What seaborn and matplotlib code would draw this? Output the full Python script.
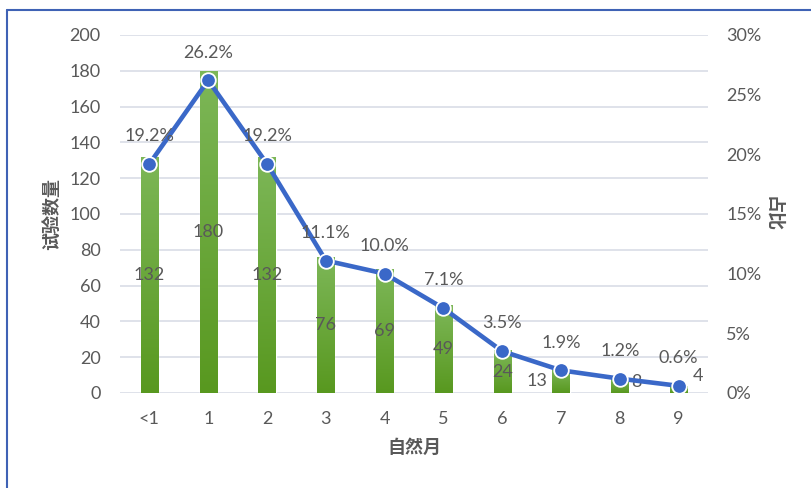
import numpy as np
import pandas as pd
import matplotlib
matplotlib.use("Agg")
import matplotlib.pyplot as plt
import seaborn as sns
from matplotlib.lines import Line2D
from matplotlib.ticker import PercentFormatter

# data
months = ['<1', '1', '2', '3', '4', '5', '6', '7', '8', '9']
counts = [132, 180, 132, 76, 69, 49, 24, 13, 8, 4]
shares = [19.2, 26.2, 19.2, 11.1, 10.0, 7.1, 3.5, 1.9, 1.2, 0.6]

df = pd.DataFrame({'month': months, 'count': counts, 'share': shares})
df['pos'] = np.arange(len(df))

sns.set_theme(style="white")
plt.rcParams['font.family'] = ['Lato', 'Noto Sans CJK SC', 'DejaVu Sans']

txt = '#595959'
grid_c = '#d9dde6'
line_c = '#3a68c8'
fs = 13

fig = plt.figure(figsize=(8.12, 4.88), dpi=100)
ax = fig.add_axes([0.1478, 0.1947, 0.7241, 0.7336])

sns.barplot(data=df, x='month', y='count', color='#68a53a', width=0.29,
            saturation=1, ax=ax, zorder=2)

# vertical green gradient on each bar
grad = np.linspace(0, 1, 256).reshape(-1, 1)
cmap = matplotlib.colors.LinearSegmentedColormap.from_list('g', ['#58981f', '#7db758'])
for p in ax.patches:
    x0, y0 = p.get_x(), p.get_y()
    w, h = p.get_width(), p.get_height()
    im = ax.imshow(grad, cmap=cmap, aspect='auto', origin='lower',
                   extent=[x0, x0 + w, y0, y0 + h], zorder=2.1)
    im.set_clip_path(p)

ax.set_xlim(-0.5, 9.5)
ax.set_ylim(0, 200)
ax.set_yticks(range(0, 201, 20))
ax.grid(axis='y', color=grid_c, lw=1.2, zorder=0)
ax.set_axisbelow(True)
for s in ax.spines.values():
    s.set_visible(False)
ax.tick_params(axis='both', length=0, labelsize=fs, colors=txt)
ax.tick_params(axis='y', pad=14)
ax.tick_params(axis='x', pad=13)
ax.set_xlabel('自然月', fontsize=13, color=txt, fontweight='bold', labelpad=8,
              family=['Noto Sans CJK SC'])
ax.set_ylabel('试验数量', fontsize=13, color=txt, fontweight='bold', labelpad=6,
              family=['Noto Sans CJK SC'])

# bar value labels (centered, a few nudged sideways like the original)
nudge = {7: (-17, 0), 8: (12, 3), 9: (14, 10)}
for i, v in enumerate(counts):
    dx, dy = nudge.get(i, (0, 0))
    ax.annotate(str(v), (i, v / 2), xytext=(dx, dy), textcoords='offset points',
                ha='center', va='center', fontsize=fs, color=txt, zorder=5)

ax2 = ax.twinx()
sns.lineplot(data=df, x='pos', y='share', ax=ax2, color=line_c, lw=3.3,
             marker='o', markersize=10.5, markeredgecolor='white',
             markeredgewidth=1.3, zorder=4)
ax2.set_ylim(0, 30)
ax2.set_yticks(range(0, 31, 5))
ax2.yaxis.set_major_formatter(PercentFormatter(decimals=0))
ax2.set_xlim(-0.5, 9.5)
for s in ax2.spines.values():
    s.set_visible(False)
ax2.tick_params(axis='y', length=0, labelsize=fs, colors=txt, pad=13)
ax2.set_ylabel('占比', fontsize=13, color=txt, fontweight='bold', rotation=270,
               labelpad=16, family=['Noto Sans CJK SC'])
ax2.set_xlabel('')
ax2.grid(False)

for i, v in enumerate(shares):
    ax2.annotate(f'{v:.1f}%', (i, v), xytext=(0, 20), textcoords='offset points',
                 ha='center', va='center', fontsize=fs, color=txt, zorder=6)

# blue frame on left and top edges
fig.add_artist(Line2D([0.0086, 0.0086], [0, 0.979], color='#3f62b5', lw=1.5))
fig.add_artist(Line2D([0.0086, 1], [0.979, 0.979], color='#3f62b5', lw=1.5))

fig.savefig('out.png', dpi=100)
